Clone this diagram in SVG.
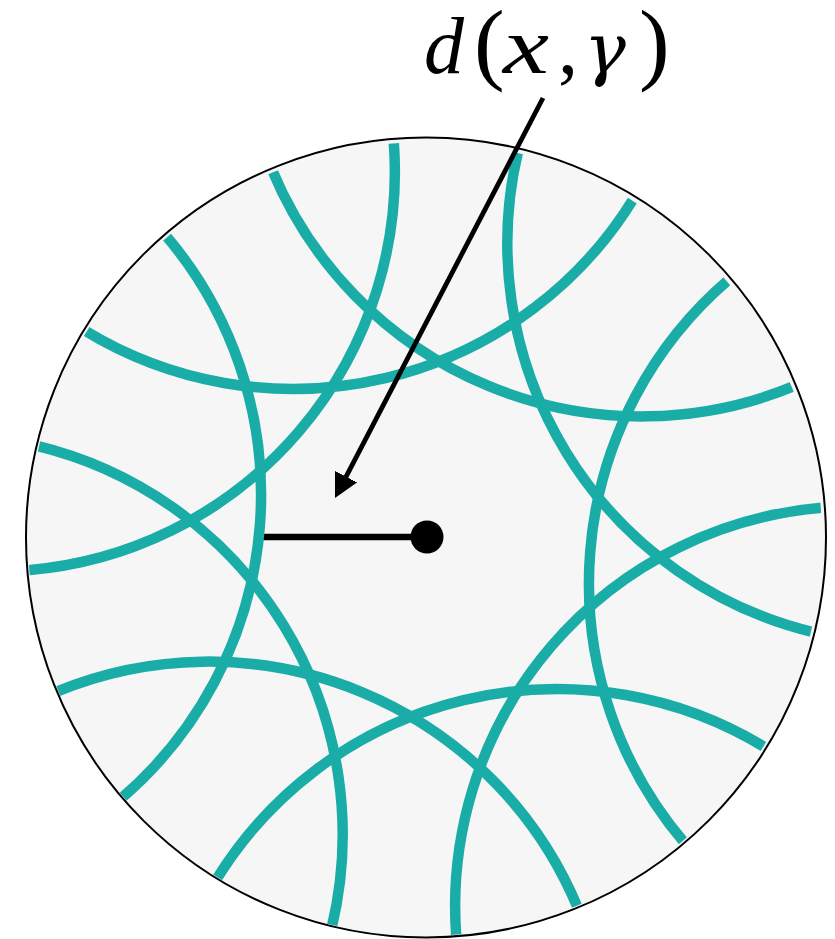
<svg xmlns="http://www.w3.org/2000/svg" width="835" height="939" viewBox="0 0 835 939">
  <style>
    .disk { fill: #f6f6f6; stroke: #000000; stroke-width: 2; }
    .geo { fill: none; stroke: #1aada8; stroke-width: 10.5; }
    .lbl { font-family: "Liberation Serif", "Times New Roman", serif; font-size: 92px; fill: #000000; }
    .it { font-style: italic; font-size: 80px; }
    .up { font-style: normal; font-size: 80px; }
    .sp { font-size: 8px; }
    .par { font-style: normal; font-size: 92px; }
    .gam { font-family: "DejaVu Serif", "Liberation Serif", serif; font-style: italic; font-size: 70px; }
  </style>
  <defs>
    <clipPath id="diskClip">
      <circle cx="425" cy="539" r="397"/>
    </clipPath>
    <marker id="arrowHead" markerUnits="userSpaceOnUse" viewBox="0 0 24 25" refX="14" refY="12.5" markerWidth="24" markerHeight="25" orient="auto">
      <path d="M0,0 L24,12.5 L0,25 Z" fill="#000000"/>
    </marker>
  </defs>

  <g id="disk">
    <circle class="disk" cx="426" cy="537.5" r="400"/>
  </g>

  <g id="distance-segment">
    <line x1="263" y1="537" x2="427" y2="537" stroke="#000000" stroke-width="6.5"/>
  </g>

  <g id="geodesics" clip-path="url(#diskClip)">
    <path class="geo" d="M518.38,150.05 A400,400 0 0 0 813.95,632.38"/>
    <path class="geo" d="M766.06,748 A400,400 0 0 0 216,880.06"/>
    <path class="geo" d="M729.16,279.22 A400,400 0 0 0 684.78,843.16"/>
    <path class="geo" d="M578.07,908.55 A400,400 0 0 0 55.45,692.07"/>
    <path class="geo" d="M823.77,507.62 A400,400 0 0 0 456.38,937.77"/>
    <path class="geo" d="M331.62,927.95 A400,400 0 0 0 36.05,445.62"/>
    <path class="geo" d="M120.84,798.78 A400,400 0 0 0 165.22,234.84"/>
    <path class="geo" d="M26.23,570.38 A400,400 0 0 0 393.62,140.23"/>
    <path class="geo" d="M83.94,330 A400,400 0 0 0 634,197.94"/>
    <path class="geo" d="M271.93,169.45 A400,400 0 0 0 794.55,385.93"/>
  </g>

  <g id="point-x">
    <circle cx="427" cy="537" r="16.5" fill="#000000"/>
  </g>

  <g id="connectors">
    <line x1="543" y1="98" x2="339.6" y2="489.1" stroke="#000000" stroke-width="4.8" marker-end="url(#arrowHead)"/>
  </g>

  <g id="label">
    <text class="lbl" y="73"><tspan class="it" x="424">d</tspan><tspan class="par" x="474">(</tspan><tspan class="it" x="503" textLength="46" lengthAdjust="spacingAndGlyphs">x</tspan><tspan class="up" x="558">,</tspan><tspan class="sp"> </tspan><tspan class="gam" x="584">γ</tspan><tspan class="par" x="639">)</tspan></text>
  </g>
</svg>
